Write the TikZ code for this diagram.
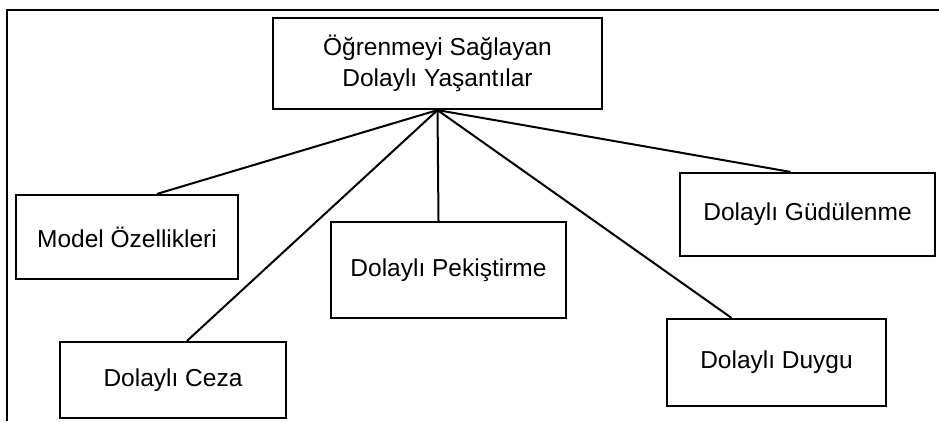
\documentclass[tikz,border=0pt]{standalone}
\usepackage{fontspec}
\setmainfont{Liberation Sans}
\usepackage{tikz}
\usetikzlibrary{positioning}
\tikzstyle{item} = [rectangle, text centered, draw=black, line width=2.2pt, font=\fontsize{24.5}{31}\selectfont]
\tikzstyle{branch} = [line width=2pt, color=black]

\begin{document}
\begin{tikzpicture}[x=1pt, y=-1pt]
\useasboundingbox (0,0) rectangle (939,421);
\draw[line width=1.5pt] (939,10) -- (7,10) -- (7,421);
% Boxes
\node (root) [item, minimum width=329pt, minimum height=91pt, align=center] at (437.5,63.5) {Öğrenmeyi Sağlayan\\Dolaylı Yaşantılar};
\node (model) [item, minimum width=222pt, minimum height=84pt] at (127,237) {Model Özellikleri};
\node (ceza) [item, minimum width=226pt, minimum height=76pt] at (173,380) {Dolaylı Ceza};
\node (pek) [item, minimum width=235pt, minimum height=96pt] at (448.5,270) {Dolaylı Pekiştirme};
\node (gud) [item, minimum width=255pt, minimum height=83pt] at (807.5,214.5) {Dolaylı Güdülenme};
\node (duygu) [item, minimum width=219pt, minimum height=87pt] at (776.5,362.5) {Dolaylı Duygu};

% Lines
\draw[branch] (root.south) -- ([xshift=30pt]model.north);
\draw[branch] (root.south) -- ([xshift=14pt]ceza.north);
\draw[branch] (root.south) -- ([xshift=-10pt]pek.north);
\draw[branch] (root.south) -- ([xshift=-17pt]gud.north);
\draw[branch] (root.south) -- ([xshift=-45pt]duygu.north);
\end{tikzpicture}
\end{document}
